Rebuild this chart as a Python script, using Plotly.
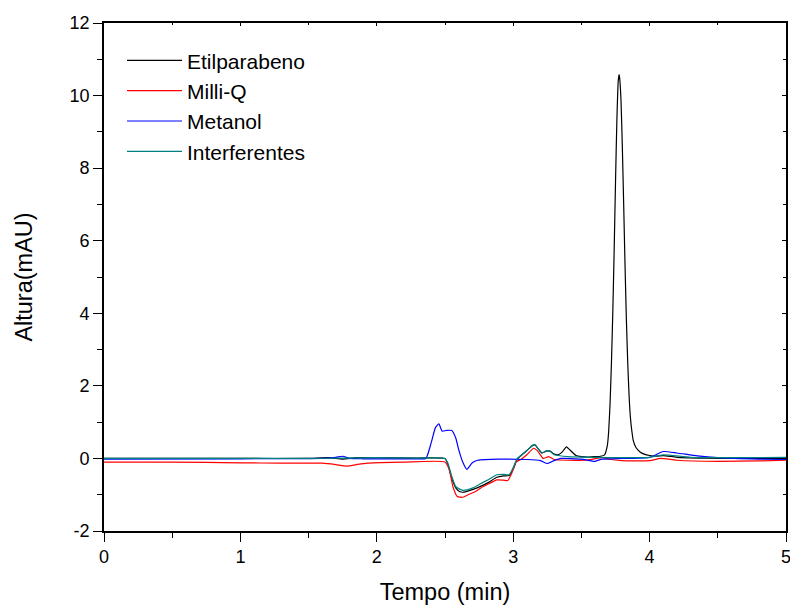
import plotly.graph_objects as go

# ---- data ----
t_etil = [0.0, 0.5, 1.0, 1.5, 1.65, 1.75, 1.85, 2.0, 2.3, 2.5, 2.52, 2.55, 2.58, 2.61, 2.64,
          2.70, 2.76, 2.82, 2.88, 2.93, 2.97, 3.00, 3.03, 3.07, 3.11, 3.14, 3.16, 3.18, 3.21,
          3.24, 3.27, 3.30, 3.33, 3.36, 3.39, 3.42, 3.46, 3.50, 3.55, 3.60, 3.64, 3.67, 3.69,
          3.70, 3.71, 3.72, 3.73, 3.74, 3.75, 3.76, 3.77, 3.776, 3.78, 3.79, 3.80, 3.81, 3.82,
          3.83, 3.84, 3.85, 3.86, 3.87, 3.88, 3.90, 3.93, 3.96, 4.00, 4.05, 4.10, 4.20, 4.40,
          4.70, 5.00]
y_etil = [0.0, 0.0, 0.0, 0.0, 0.02, -0.02, 0.02, 0.02, 0.01, 0.0, -0.15, -0.55, -0.82, -0.92, -0.93,
          -0.86, -0.77, -0.66, -0.52, -0.48, -0.47, -0.30, -0.02, 0.12, 0.25, 0.35, 0.37, 0.28, 0.15,
          0.20, 0.20, 0.12, 0.10, 0.18, 0.32, 0.22, 0.08, 0.05, 0.04, 0.05, 0.06, 0.10, 0.35,
          0.75, 1.5, 2.6, 4.0, 5.7, 7.6, 9.3, 10.4, 10.58, 10.5, 9.9, 8.6, 7.0, 5.3,
          3.8, 2.6, 1.7, 1.1, 0.75, 0.5, 0.3, 0.18, 0.12, 0.08, 0.06, 0.08, 0.03, 0.01,
          0.0, 0.0]

t_milliq = [0.0, 0.5, 1.0, 1.3, 1.6, 1.7, 1.78, 1.85, 1.93, 2.2, 2.5, 2.53, 2.56, 2.59, 2.63,
            2.67, 2.72, 2.76, 2.82, 2.88, 2.93, 2.96, 2.99, 3.02, 3.06, 3.10, 3.15, 3.18, 3.22,
            3.26, 3.30, 3.40, 3.55, 3.65, 3.72, 3.80, 4.00, 4.08, 4.20, 4.50, 4.80, 5.00]
y_milliq = [-0.10, -0.10, -0.12, -0.13, -0.13, -0.17, -0.21, -0.17, -0.13, -0.10, -0.10, -0.30, -0.80, -1.05, -1.07,
            -1.00, -0.92, -0.82, -0.70, -0.59, -0.60, -0.61, -0.40, -0.10, -0.02, 0.10, 0.28, 0.20, 0.00,
            0.05, -0.03, -0.05, -0.04, 0.02, -0.03, -0.06, -0.06, 0.00, -0.05, -0.08, -0.07, -0.05]

t_metanol = [0.0, 1.0, 1.6, 1.7, 1.75, 1.8, 1.9, 2.3, 2.36, 2.40, 2.43, 2.455, 2.48, 2.51, 2.55,
             2.58, 2.60, 2.63, 2.66, 2.70, 2.74, 2.90, 3.10, 3.20, 3.25, 3.30, 3.35, 3.50, 3.60,
             3.65, 3.80, 4.00, 4.10, 4.20, 4.35, 4.50, 4.80, 5.00]
y_metanol = [-0.02, -0.01, 0.0, 0.03, 0.06, 0.0, -0.01, -0.01, 0.0, 0.45, 0.85, 0.95, 0.75, 0.77, 0.77,
             0.55, 0.25, -0.10, -0.30, -0.12, -0.05, -0.02, -0.03, -0.06, -0.14, -0.06, 0.0, -0.02, -0.08,
             -0.02, 0.0, 0.03, 0.19, 0.15, 0.07, 0.02, -0.02, -0.03]

t_interf = [0.0, 0.5, 1.0, 1.5, 1.75, 2.0, 2.3, 2.5, 2.52, 2.55, 2.58, 2.63, 2.70, 2.76, 2.82,
            2.88, 2.93, 2.97, 3.00, 3.03, 3.07, 3.11, 3.14, 3.16, 3.18, 3.21, 3.24, 3.27, 3.30,
            3.33, 3.40, 3.60, 3.80, 4.00, 4.10, 4.30, 4.60, 5.00]
y_interf = [0.0, 0.0, 0.0, 0.0, 0.01, 0.02, 0.01, 0.0, -0.12, -0.50, -0.78, -0.88, -0.82, -0.70, -0.58,
            -0.45, -0.44, -0.45, -0.25, 0.0, 0.12, 0.25, 0.36, 0.38, 0.28, 0.15, 0.20, 0.20, 0.10,
            0.08, 0.05, 0.03, 0.02, 0.03, 0.10, 0.03, 0.02, 0.03]

series = [
    ("Etilparabeno", t_etil, y_etil, "#000000"),
    ("Milli-Q", t_milliq, y_milliq, "#FF0000"),
    ("Metanol", t_metanol, y_metanol, "#0000FF"),
    ("Interferentes", t_interf, y_interf, "#008080"),
]

x_ticks = [0, 1, 2, 3, 4, 5]
x_ticktext = ["0", "1", "2", "3", "4", "5"]
x_minor = [0.5, 1.5, 2.5, 3.5, 4.5]
y_ticks = [-2, 0, 2, 4, 6, 8, 10, 12]
y_ticktext = ["-2", "0", "2", "4", "6", "8", "10", "12"]
y_minor = [-1, 1, 3, 5, 7, 9, 11]

FONT = "Liberation Sans, Arial, sans-serif"

fig = go.Figure()
for name, t, y, c in series:
    fig.add_trace(go.Scatter(x=t, y=y, name=name, mode="lines",
                             line=dict(color=c, width=1.2, shape="spline", smoothing=0.5)))

# helper invisible trace so the mirrored (inside-tick) axes are drawn
fig.add_trace(go.Scatter(x=t_etil, y=y_etil, xaxis="x2", yaxis="y2", mode="lines",
                         line=dict(width=0), opacity=0, showlegend=False, hoverinfo="skip"))

axis_common = dict(showgrid=False, zeroline=False, showline=True, linecolor="black",
                   linewidth=1.6, tickcolor="black", tickwidth=1.4, automargin=False)

fig.update_layout(
    width=790, height=605,
    margin=dict(l=104, r=4, t=23, b=74),
    paper_bgcolor="white", plot_bgcolor="white",
    font=dict(family=FONT, color="black", size=18),
    xaxis=dict(range=[0, 5], tickmode="array", tickvals=x_ticks, ticktext=x_ticktext,
               ticks="outside", ticklen=9,
               minor=dict(tickmode="array", tickvals=x_minor, ticks="outside", ticklen=5,
                          tickcolor="black", tickwidth=1.4),
               title=dict(text="Tempo (min)", font=dict(size=23.5), standoff=21),
               tickfont=dict(size=18), **axis_common),
    yaxis=dict(range=[-2, 12], tickmode="array", tickvals=y_ticks, ticktext=y_ticktext,
               ticks="outside", ticklen=9,
               minor=dict(tickmode="array", tickvals=y_minor, ticks="outside", ticklen=5,
                          tickcolor="black", tickwidth=1.4),
               title=dict(text="Altura(mAU)", font=dict(size=23.5), standoff=30),
               tickfont=dict(size=18), **axis_common),
    xaxis2=dict(range=[0, 5], overlaying="x", side="top", tickmode="array", tickvals=x_ticks,
                ticks="inside", ticklen=3, showticklabels=False,
                minor=dict(tickmode="array", tickvals=x_minor, ticks="inside", ticklen=2,
                           tickcolor="black", tickwidth=1.4),
                **axis_common),
    yaxis2=dict(range=[-2, 12], overlaying="y", side="right", tickmode="array", tickvals=y_ticks,
                ticks="inside", ticklen=4, showticklabels=False,
                minor=dict(tickmode="array", tickvals=y_minor, ticks="inside", ticklen=3,
                           tickcolor="black", tickwidth=1.4),
                **axis_common),
    legend=dict(x=0.0264, y=0.966, xanchor="left", yanchor="top", bgcolor="rgba(0,0,0,0)",
                font=dict(size=21), tracegroupgap=0, itemwidth=55),
    showlegend=True,
)

# last x tick label sits on the figure edge (partly cut off, as in the reference)
fig.add_annotation(x=x_ticks[-1], xref="x", y=0, yref="paper", text=x_ticktext[-1],
                   showarrow=False, yanchor="top", yshift=-14, font=dict(size=18))

fig.write_html("out.html",
               config={"displayModeBar": False},
               post_script="document.body.style.margin='0';document.body.style.overflow='hidden';")
